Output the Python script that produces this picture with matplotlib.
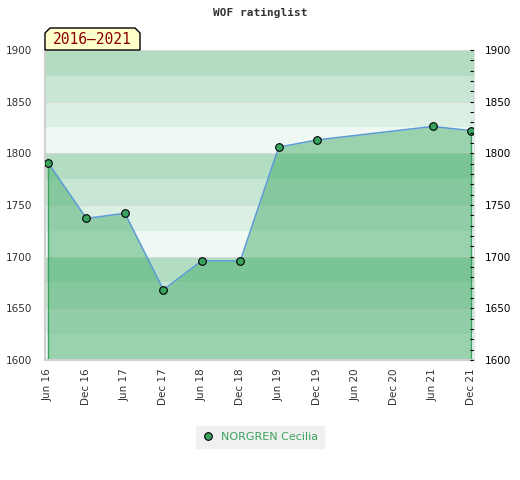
import matplotlib
matplotlib.use("Agg")
import matplotlib.pyplot as plt
from matplotlib.patches import Polygon
from matplotlib.ticker import MultipleLocator

# Data
periods = ["Jun 16", "Dec 16", "Jun 17", "Dec 17", "Jun 18", "Dec 18",
           "Jun 19", "Dec 19", "Jun 20", "Dec 20", "Jun 21", "Dec 21"]
point_periods = ["Jun 16", "Dec 16", "Jun 17", "Dec 17", "Jun 18", "Dec 18",
                 "Jun 19", "Dec 19", "Jun 21", "Dec 21"]
ratings = [1791, 1737, 1742, 1668, 1696, 1696, 1806, 1813, 1826, 1822]
player = "NORGREN Cecilia"
span_label = "2016\u20132021"
y_min, y_max = 1600, 1900

band_colors = ["#b3ddc2", "#c8e6d4", "#dcefe3", "#eff8f2"]
fill_color = "#3fa965"
marker_color = "#3aa35f"
line_color = "#5b9bd5"
text_color = "#333333"

xs = [periods.index(p) for p in point_periods]

fig = plt.figure(figsize=(5.2, 4.8), dpi=100)
ax = fig.add_axes([45 / 520, 120 / 480, 429 / 520, 310 / 480])

# background bands, 25 points each
for k, top in enumerate(range(y_max, y_min, -25)):
    ax.axhspan(top - 25, top, color=band_colors[k % 4], lw=0, zorder=0)
for g in range(y_min, y_max + 1, 50):
    ax.axhline(g, color="#dadada", lw=0.7, zorder=0.5)

ax.fill_between(xs, ratings, y_min, color=fill_color, alpha=0.48, lw=0, zorder=1)
ax.vlines([xs[0], xs[-1]], y_min, [ratings[0], ratings[-1]], color=marker_color, lw=1, zorder=2)
ax.plot(xs, ratings, color=line_color, lw=1.1, zorder=3)
ax.plot(xs, ratings, "o", color=marker_color, mec="black", mew=0.8, ms=5.5,
        zorder=4, label=player)

ax.set_xlim(-0.078, len(periods) - 1 + 0.078)
ax.set_ylim(y_min, y_max)
ax.set_xticks(range(len(periods)))
ax.set_xticklabels(periods, rotation=90, fontsize=7.5, color=text_color)
ax.yaxis.set_major_locator(MultipleLocator(50))
ax.tick_params(axis="y", length=0, pad=9, labelsize=7.5, labelcolor=text_color)
ax.tick_params(axis="x", length=0, pad=6)
for side in ["top", "right"]:
    ax.spines[side].set_visible(False)
for side in ["left", "bottom"]:
    ax.spines[side].set_color("#d0d0d0")
    ax.spines[side].set_linewidth(1.5)

ax2 = ax.twinx()
ax2.set_ylim(y_min, y_max)
ax2.yaxis.set_major_locator(MultipleLocator(50))
ax2.yaxis.set_minor_locator(MultipleLocator(10))
ax2.tick_params(axis="y", which="both", direction="in", length=3, width=0.8,
                pad=8, labelsize=7.5, labelcolor="black")
for side in ["top", "left", "bottom"]:
    ax2.spines[side].set_visible(False)
ax2.spines["right"].set_color("#e0e0e0")

fig.text(0.5, 1 - 13 / 480, "WOF ratinglist", ha="center", va="center",
         family="DejaVu Sans Mono", weight="bold", fontsize=8, color=text_color)

# period badge with chamfered top corners
pts = [(45, 50), (45, 33), (50, 28), (135, 28), (140, 33), (140, 50)]
badge = Polygon([(x / 520, 1 - y / 480) for x, y in pts], closed=True,
                transform=fig.transFigure, facecolor="#ffffcc", edgecolor="black",
                lw=1, zorder=5)
fig.patches.append(badge)
fig.text(92.5 / 520, 1 - 40 / 480, span_label, ha="center", va="center",
         family="DejaVu Sans Mono", fontsize=10.5, color="#8b0000", zorder=6)

leg = ax.legend(loc="center", bbox_to_anchor=(0.5, 43 / 480),
                bbox_transform=fig.transFigure, frameon=True, fontsize=8,
                handletextpad=0.7, borderpad=0.5, handlelength=1.0,
                fancybox=False)
leg.get_frame().set_facecolor("#f0f0f0")
leg.get_frame().set_edgecolor("#f0f0f0")
leg.get_frame().set_alpha(1)
for t in leg.get_texts():
    t.set_color(marker_color)

fig.savefig("out.png", dpi=100)
